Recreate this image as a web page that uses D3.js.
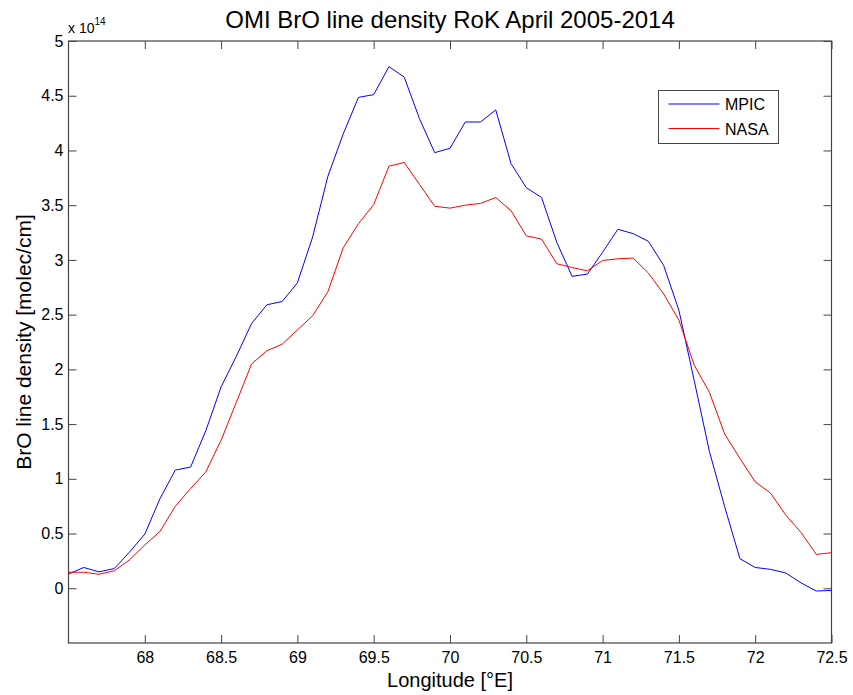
<!DOCTYPE html>
<html>
<head>
<meta charset="utf-8">
<script src="https://cdn.jsdelivr.net/npm/d3@7"></script>
<style>
  body { margin: 0; background: #fff; }
  text { font-family: "Liberation Sans", Arial, sans-serif; fill: #000; }
</style>
</head>
<body>
<svg width="853" height="695"></svg>
<script>
// longitude in degrees E, values in 1e14 molec/cm
var lon = [67.5, 67.6, 67.7, 67.8, 67.9, 68.0, 68.1, 68.2, 68.3, 68.4,
  68.5, 68.6, 68.7, 68.8, 68.9, 69.0, 69.1, 69.2, 69.3, 69.4,
  69.5, 69.6, 69.7, 69.8, 69.9, 70.0, 70.1, 70.2, 70.3, 70.4,
  70.5, 70.6, 70.7, 70.8, 70.9, 71.0, 71.1, 71.2, 71.3, 71.4,
  71.5, 71.6, 71.7, 71.8, 71.9, 72.0, 72.1, 72.2, 72.3, 72.4, 72.5];
var mpic = [0.13, 0.19, 0.15, 0.18, 0.33, 0.495, 0.82, 1.08, 1.107, 1.44,
  1.84, 2.12, 2.42, 2.59, 2.62, 2.79, 3.21, 3.765, 4.15, 4.485,
  4.51, 4.766, 4.67, 4.29, 3.98, 4.02, 4.26, 4.26, 4.37, 3.88,
  3.66, 3.57, 3.16, 2.85, 2.87, 3.07, 3.28, 3.24, 3.17, 2.95,
  2.54, 1.9, 1.25, 0.745, 0.27, 0.19, 0.173, 0.14, 0.05, -0.025, -0.02];
var nasa = [0.146, 0.146, 0.128, 0.16, 0.26, 0.395, 0.52, 0.75, 0.91, 1.064,
  1.353, 1.70, 2.05, 2.17, 2.23, 2.36, 2.49, 2.71, 3.11, 3.33,
  3.506, 3.856, 3.89, 3.69, 3.49, 3.473, 3.50, 3.516, 3.57, 3.45,
  3.22, 3.19, 2.965, 2.93, 2.90, 2.995, 3.01, 3.017, 2.88, 2.69,
  2.45, 2.04, 1.79, 1.41, 1.186, 0.973, 0.87, 0.67, 0.51, 0.31, 0.325];
var xTicks = [68, 68.5, 69, 69.5, 70, 70.5, 71, 71.5, 72, 72.5];
var yTicks = [0, 0.5, 1, 1.5, 2, 2.5, 3, 3.5, 4, 4.5, 5];
var seriesNames = ["MPIC", "NASA"];
var seriesColors = ["#0000ff", "#ff0000"];

var svg = d3.select("svg");
var pLeft = 68.5, pRight = 831.5, pTop = 41, pBottom = 643;

var x = d3.scaleLinear().domain([67.5, 72.5]).range([pLeft, pRight]);
var y = d3.scaleLinear().domain([-0.5, 5]).range([pBottom, pTop]);

var axisColor = "#444";
var tickLen = 8;

// axes (MATLAB style: ticks inside, mirrored on all sides)
var gx = svg.append("g").attr("transform", "translate(0," + pBottom + ")")
  .call(d3.axisBottom(x).tickValues(xTicks).tickSizeInner(-tickLen).tickSizeOuter(0).tickPadding(9)
    .tickFormat(d3.format("")));
var gxTop = svg.append("g").attr("transform", "translate(0," + pTop + ")")
  .call(d3.axisTop(x).tickValues(xTicks).tickSizeInner(-tickLen).tickSizeOuter(0).tickFormat(""));
var gy = svg.append("g").attr("transform", "translate(" + pLeft + ",0)")
  .call(d3.axisLeft(y).tickValues(yTicks).tickSizeInner(-tickLen).tickSizeOuter(0).tickPadding(5)
    .tickFormat(d3.format("")));
var gyRight = svg.append("g").attr("transform", "translate(" + pRight + ",0)")
  .call(d3.axisRight(y).tickValues(yTicks).tickSizeInner(-tickLen).tickSizeOuter(0).tickFormat(""));

[gx, gxTop, gy, gyRight].forEach(function(g) {
  g.select(".domain").remove();
  g.selectAll("line").attr("stroke", axisColor);
  g.selectAll("text").style("font-size", "16px").attr("fill", "#000");
});

svg.append("rect")
  .attr("x", pLeft).attr("y", pTop)
  .attr("width", pRight - pLeft).attr("height", pBottom - pTop)
  .attr("fill", "none").attr("stroke", axisColor).attr("stroke-width", 1.2);

// lines
var line = d3.line()
  .x(function(d) { return x(d[0]); })
  .y(function(d) { return y(d[1]); });

[mpic, nasa].forEach(function(vals, i) {
  svg.append("path")
    .datum(lon.map(function(l, j) { return [l, vals[j]]; }))
    .attr("fill", "none")
    .attr("stroke", seriesColors[i])
    .attr("stroke-width", 1)
    .attr("d", line);
});

// exponent label
var ex = svg.append("text").attr("x", 68).attr("y", 33).style("font-size", "14px");
ex.append("tspan").text("x 10");
ex.append("tspan").attr("dy", -8).style("font-size", "10px").text("14");

// title
svg.append("text")
  .attr("x", (pLeft + pRight) / 2).attr("y", 28)
  .attr("text-anchor", "middle")
  .style("font-size", "24px")
  .text("OMI BrO line density RoK April 2005-2014");

svg.append("text")
  .attr("x", (pLeft + pRight) / 2).attr("y", 687)
  .attr("text-anchor", "middle")
  .style("font-size", "20px")
  .text("Longitude [°E]");

svg.append("text")
  .attr("transform", "translate(31," + ((pTop + pBottom) / 2) + ") rotate(-90)")
  .attr("text-anchor", "middle")
  .style("font-size", "21px")
  .text("BrO line density [molec/cm]");

// legend
var lg = svg.append("g");
lg.append("rect")
  .attr("x", 658.5).attr("y", 90.5).attr("width", 120).attr("height", 53)
  .attr("fill", "#fff").attr("stroke", axisColor);
seriesNames.forEach(function(name, i) {
  var ly = 104 + i * 24.5;
  lg.append("line")
    .attr("x1", 668.5).attr("x2", 719.5).attr("y1", ly).attr("y2", ly)
    .attr("stroke", seriesColors[i]).attr("stroke-width", 1);
  lg.append("text")
    .attr("x", 725).attr("y", ly + 6)
    .style("font-size", "16px")
    .text(name);
});
</script>
</body>
</html>
